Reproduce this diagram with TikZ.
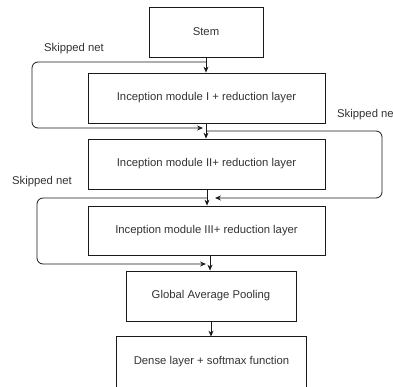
\documentclass[tikz,border=0pt]{standalone}
\usepackage{fontspec}
\setmainfont{Liberation Sans}
\usetikzlibrary{arrows.meta}
\definecolor{txt}{HTML}{333333}
\definecolor{ln}{HTML}{1A1A1A}
\begin{document}
\begin{tikzpicture}[x=1pt,y=-1pt,
  box/.style={draw=ln,line width=0.8pt,minimum height=50pt,inner sep=0pt,text=txt,font=\fontsize{11.3}{13}\selectfont},
  lbl/.style={text=txt,font=\fontsize{11.3}{13}\selectfont,inner sep=0pt},
  flow/.style={draw=ln,line width=0.8pt,-{Stealth[length=6pt,width=5pt]}},
  skip/.style={flow,rounded corners=6pt}]
\useasboundingbox[fill=white] (0,0) rectangle (393,387);
% boxes
\node[box,minimum width=114pt] (stem) at (206,32) {Stem};
\node[box,minimum width=237pt] (inc1) at (206.5,98) {Inception module I + reduction layer};
\node[box,minimum width=237pt] (inc2) at (206.5,164) {Inception module II+ reduction layer};
\node[box,minimum width=237pt,minimum height=49pt] (inc3) at (206.5,230.5) {Inception module III+ reduction layer};
\node[box,minimum width=170pt] (gap) at (211,296) {Global Average Pooling};
\node[box,draw=none,minimum width=189pt] (dense) at (211.5,362) {Dense layer + softmax function};
\draw[ln,line width=0.8pt] (dense.south west) -- (dense.north west) -- (dense.north east) -- (dense.south east);
% main flow
\draw[flow] (stem.south) -- (stem.south |- inc1.north);
\draw[flow] (inc1.south -| stem.south) -- (stem.south |- inc2.north);
\coordinate (v3) at (207,189);
\draw[flow] (v3) -- (v3 |- inc3.north);
\coordinate (v4) at (210,255);
\draw[flow] (v4) -- (v4 |- gap.north);
\draw[flow] (gap.south) -- (gap.south |- dense.north);
% skip connections
\coordinate (s1) at (206,62);
\coordinate (e1) at (203,128);
\draw[skip] (s1) -- (32,62) -- (32,128) -- (e1);
\coordinate (s2) at (206,131);
\coordinate (e2) at (215,198);
\draw[skip] (s2) -- (382,131) -- (382,198) -- (e2);
\coordinate (s3) at (207,198);
\coordinate (e3) at (206,264);
\draw[skip] (s3) -- (37,198) -- (37,264) -- (e3);
% labels
\node[lbl,anchor=west] (l1) at (44,49) {Skipped net};
\node[lbl,anchor=west] (l2) at (337,115) {Skipped ne};
\node[lbl,anchor=west] (l3) at (12,182) {Skipped net};
\end{tikzpicture}
\end{document}
